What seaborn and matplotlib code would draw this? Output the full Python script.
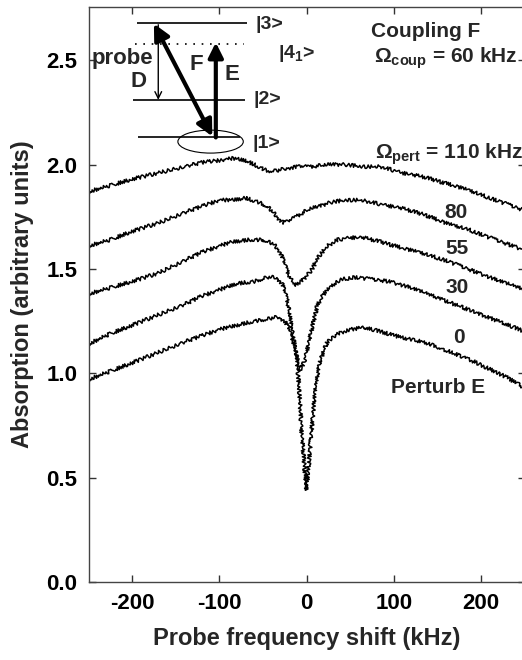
import numpy as np
import pandas as pd
import seaborn as sns
import matplotlib.pyplot as plt
from matplotlib.patches import Ellipse

# absorption traces, one per perturbing Rabi frequency (kHz)
x_110 = [-250, -225, -200, -170, -140, -120, -100, -85, -70, -55, -45, -35, -25, -10, 5,
         25, 45, 65, 85, 110, 135, 160, 185, 210, 230, 250]
y_110 = [1.87, 1.90, 1.93, 1.96, 1.99, 2.01, 2.02, 2.03, 2.02, 1.99, 1.97, 1.97, 1.98, 1.99, 1.99,
         2.00, 2.00, 1.99, 1.99, 1.96, 1.94, 1.91, 1.88, 1.84, 1.81, 1.78]

x_80 = [-250, -225, -200, -170, -140, -120, -100, -85, -70, -55, -45, -38, -32, -26, -20,
        -12, -4, 5, 15, 28, 45, 62, 85, 110, 135, 160, 185, 210, 230, 250]
y_80 = [1.61, 1.64, 1.68, 1.72, 1.77, 1.80, 1.83, 1.83, 1.84, 1.82, 1.80, 1.77, 1.74, 1.72, 1.73,
        1.75, 1.77, 1.79, 1.80, 1.82, 1.83, 1.83, 1.81, 1.79, 1.76, 1.72, 1.69, 1.65, 1.62, 1.59]

x_55 = [-250, -225, -200, -170, -140, -120, -100, -85, -65, -50, -38, -30, -24, -18, -12,
        -6, 1, 8, 12, 24, 36, 50, 65, 85, 110, 130, 160, 185, 210, 230, 250]
y_55 = [1.38, 1.41, 1.44, 1.48, 1.54, 1.58, 1.61, 1.63, 1.64, 1.64, 1.62, 1.58, 1.51, 1.45, 1.42,
        1.44, 1.47, 1.51, 1.55, 1.61, 1.64, 1.65, 1.65, 1.63, 1.60, 1.58, 1.54, 1.50, 1.46, 1.43, 1.40]

x_30 = [-250, -225, -200, -170, -140, -120, -100, -80, -60, -45, -35, -28, -22, -16, -12,
        -10, -8, -5, -3, 0, 5, 12, 18, 24, 32, 40, 55, 75, 95, 120, 145, 170, 195, 220, 250]
y_30 = [1.14, 1.19, 1.23, 1.28, 1.33, 1.37, 1.40, 1.43, 1.44, 1.46, 1.46, 1.43, 1.35, 1.19, 1.10,
        1.06, 1.01, 1.03, 1.05, 1.10, 1.19, 1.32, 1.37, 1.40, 1.43, 1.45, 1.46, 1.45, 1.44, 1.41,
        1.37, 1.33, 1.29, 1.25, 1.20]

x_0 = [-250, -225, -200, -170, -140, -120, -100, -80, -60, -45, -33, -25, -20, -15, -12,
       -10, -8, -5.5, -2.5, 0, 2.5, 5.5, 9.5, 15, 20, 24, 30, 36, 50, 66, 85, 110, 135, 160,
       185, 210, 230, 250]
y_0 = [0.97, 1.01, 1.05, 1.10, 1.15, 1.18, 1.21, 1.23, 1.25, 1.26, 1.27, 1.25, 1.21, 1.15, 1.10,
       1.02, 0.90, 0.71, 0.56, 0.44, 0.56, 0.71, 0.90, 1.05, 1.11, 1.15, 1.17, 1.19, 1.21, 1.22,
       1.20, 1.17, 1.15, 1.11, 1.07, 1.02, 0.98, 0.93]

x_ticks = [-200, -100, 0, 100, 200]
y_ticks = [0.0, 0.5, 1.0, 1.5, 2.0, 2.5]

frames = []
for name, xs, ys in [("110", x_110, y_110), ("80", x_80, y_80), ("55", x_55, y_55),
                     ("30", x_30, y_30), ("0", x_0, y_0)]:
    frames.append(pd.DataFrame({"shift": xs, "absorption": ys, "pert": name}))
df = pd.concat(frames, ignore_index=True)

sns.set_style("ticks", {"xtick.direction": "in", "ytick.direction": "in"})
plt.rcParams["font.family"] = ["Liberation Sans", "DejaVu Sans"]
plt.rcParams["font.weight"] = "bold"
plt.rcParams["mathtext.fontset"] = "custom"
plt.rcParams["mathtext.rm"] = "Liberation Sans:bold"
plt.rcParams["mathtext.it"] = "Liberation Sans:bold"
plt.rcParams["mathtext.bf"] = "Liberation Sans:bold"

fig = plt.figure(figsize=(5.22, 6.6), dpi=100)
ax = fig.add_axes([88.5 / 522, 78 / 660, 436 / 522, 575 / 660])

sns.lineplot(data=df, x="shift", y="absorption", units="pert", estimator=None,
             color="black", linewidth=1.1, sort=True, ax=ax)
# noisy look of the measured traces
for ln in ax.lines:
    ln.set_sketch_params(scale=1.8, length=2.0, randomness=2.5)

ax.set_xlim(-250, 250)
ax.set_ylim(0, 2.755)
ax.set_xticks(x_ticks)
ax.set_yticks(y_ticks)
ax.set_xticklabels([str(t) for t in x_ticks])
ax.set_yticklabels([f"{t:.1f}" for t in y_ticks])
ax.tick_params(direction="in", length=5, width=1, top=True, right=True,
               labelsize=16, colors="#333333", labelcolor="black")
ax.tick_params(axis="y", pad=8)
ax.tick_params(axis="x", pad=8)
for sp in ax.spines.values():
    sp.set_visible(True)
    sp.set_linewidth(1.0)
    sp.set_color("#444444")

ax.set_xlabel("Probe frequency shift (kHz)", fontsize=17, fontweight="bold", labelpad=9)
ax.set_ylabel("Absorption (arbitrary units)", fontsize=17, fontweight="bold", labelpad=9)

# trace labels
ax.text(171, 1.77, "80", fontsize=15, fontweight="bold", ha="center", va="center")
ax.text(173, 1.60, "55", fontsize=15, fontweight="bold", ha="center", va="center")
ax.text(173, 1.41, "30", fontsize=15, fontweight="bold", ha="center", va="center")
ax.text(175, 1.17, "0", fontsize=15, fontweight="bold", ha="center", va="center")
ax.text(151, 0.93, "Perturb E", fontsize=15, fontweight="bold", ha="center", va="center")

ax.text(74, 2.64, "Coupling F", fontsize=15, fontweight="bold", ha="left", va="center")
ax.text(242, 2.51, r"$\Omega_{\rm coup}$ = 60 kHz", fontsize=15, ha="right", va="center")
ax.text(248, 2.05, r"$\Omega_{\rm pert}$ = 110 kHz", fontsize=15, ha="right", va="center")

# level scheme
ax.hlines([2.68, 2.31, 2.13], [-194, -199, -193], [-68, -70, -76], color="black", lw=1.2)
ax.hlines(2.58, -197, -72, color="black", lw=1.2, linestyles=(0, (1, 4)))
ax.add_patch(Ellipse((-110, 2.11), 75, 0.11, fill=False, edgecolor="black", lw=0.8))

ax.annotate("", xy=(-108, 2.135), xytext=(-175, 2.675),
            arrowprops=dict(arrowstyle="<|-|>", lw=3, color="black", mutation_scale=24,
                            shrinkA=0, shrinkB=0))
ax.annotate("", xy=(-104, 2.585), xytext=(-104, 2.13),
            arrowprops=dict(arrowstyle="-|>", lw=3, color="black", mutation_scale=22,
                            shrinkA=0, shrinkB=0))
ax.annotate("", xy=(-170, 2.31), xytext=(-170, 2.67),
            arrowprops=dict(arrowstyle="->", lw=1, color="black", mutation_scale=12,
                            shrinkA=0, shrinkB=0))

ax.text(-246, 2.51, "probe", fontsize=16, fontweight="bold", ha="left", va="center")
ax.text(-193, 2.40, "D", fontsize=16, fontweight="bold", ha="center", va="center")
ax.text(-126, 2.48, "F", fontsize=16, fontweight="bold", ha="center", va="center")
ax.text(-85, 2.43, "E", fontsize=16, fontweight="bold", ha="center", va="center")
ax.text(-59, 2.67, "|3>", fontsize=14, ha="left", va="center")
ax.text(-33, 2.53, "|4$_1$>", fontsize=14, ha="left", va="center")
ax.text(-61, 2.31, "|2>", fontsize=14, ha="left", va="center")
ax.text(-62, 2.10, "|1>", fontsize=14, ha="left", va="center")

fig.savefig("out.png", dpi=100)
